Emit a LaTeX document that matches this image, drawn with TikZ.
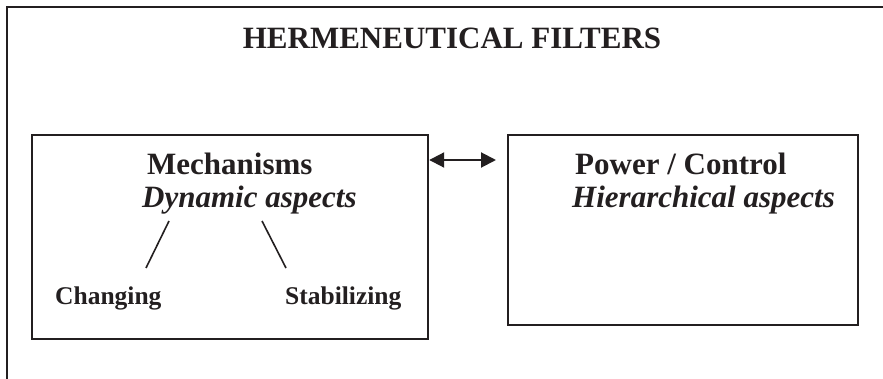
\documentclass[tikz,border=0pt]{standalone}
\usepackage{fontspec}
\setmainfont{Liberation Serif}
\usetikzlibrary{arrows.meta}
\definecolor{ink}{HTML}{231F20}
\tikzset{
  frame/.style={draw=ink, line width=2.2pt},
  boxnode/.style={frame, rectangle, inner sep=0pt},
  txt/.style={anchor=base west, inner sep=0pt, text=ink},
  bigb/.style={txt, font=\bfseries\fontsize{31}{36}\selectfont},
  bigi/.style={txt, font=\bfseries\itshape\fontsize{31}{36}\selectfont},
  smallb/.style={txt, font=\bfseries\fontsize{25.5}{30}\selectfont},
  link/.style={draw=ink, line width=1.6pt},
  dbl/.style={draw=ink, line width=2pt, {Triangle[length=15pt,width=15pt]}-{Triangle[length=15pt,width=15pt]}}
}
\begin{document}
\begin{tikzpicture}[x=1pt,y=-1pt]
\useasboundingbox (0,0) rectangle (883,379);
\fill[white] (0,0) rectangle (883,379);
% outer frame (clipped at right and bottom)
\coordinate (ob) at (7,395);
\coordinate (otl) at (7,7);
\coordinate (otr) at (900,7);
\draw[frame] (ob) -- (otl) -- (otr);
% title
\node[txt, anchor=base, font=\bfseries\fontsize{31}{36}\selectfont] (title) at (452,49) {HERMENEUTICAL FILTERS};
% boxes
\node[boxnode, minimum width=396pt, minimum height=204pt, anchor=north west] (mechbox) at (31,134) {};
\node[boxnode, minimum width=350pt, minimum height=190pt, anchor=north west] (powerbox) at (507,134) {};
% texts
\node[bigb] (mech) at (147,175) {Mechanisms};
\node[bigi] (dyn) at (142,208) {Dynamic aspects};
\node[bigb] (power) at (575,175) {Power / Control};
\node[bigi] (hier) at (572,208) {Hierarchical aspects};
\node[smallb] (chg) at (55,305) {Changing};
\node[smallb] (stab) at (285,305) {Stabilizing};
% branch lines
\coordinate (l1a) at (169,221);
\coordinate (l1b) at (146,268);
\coordinate (l2a) at (262,221);
\coordinate (l2b) at (286,268);
\draw[link] (l1a) -- (l1b);
\draw[link] (l2a) -- (l2b);
% double arrow
\draw[dbl] ([yshift=-26pt]mechbox.north east) -- ([xshift=-11pt,yshift=-26pt]powerbox.north west);
\end{tikzpicture}
\end{document}
